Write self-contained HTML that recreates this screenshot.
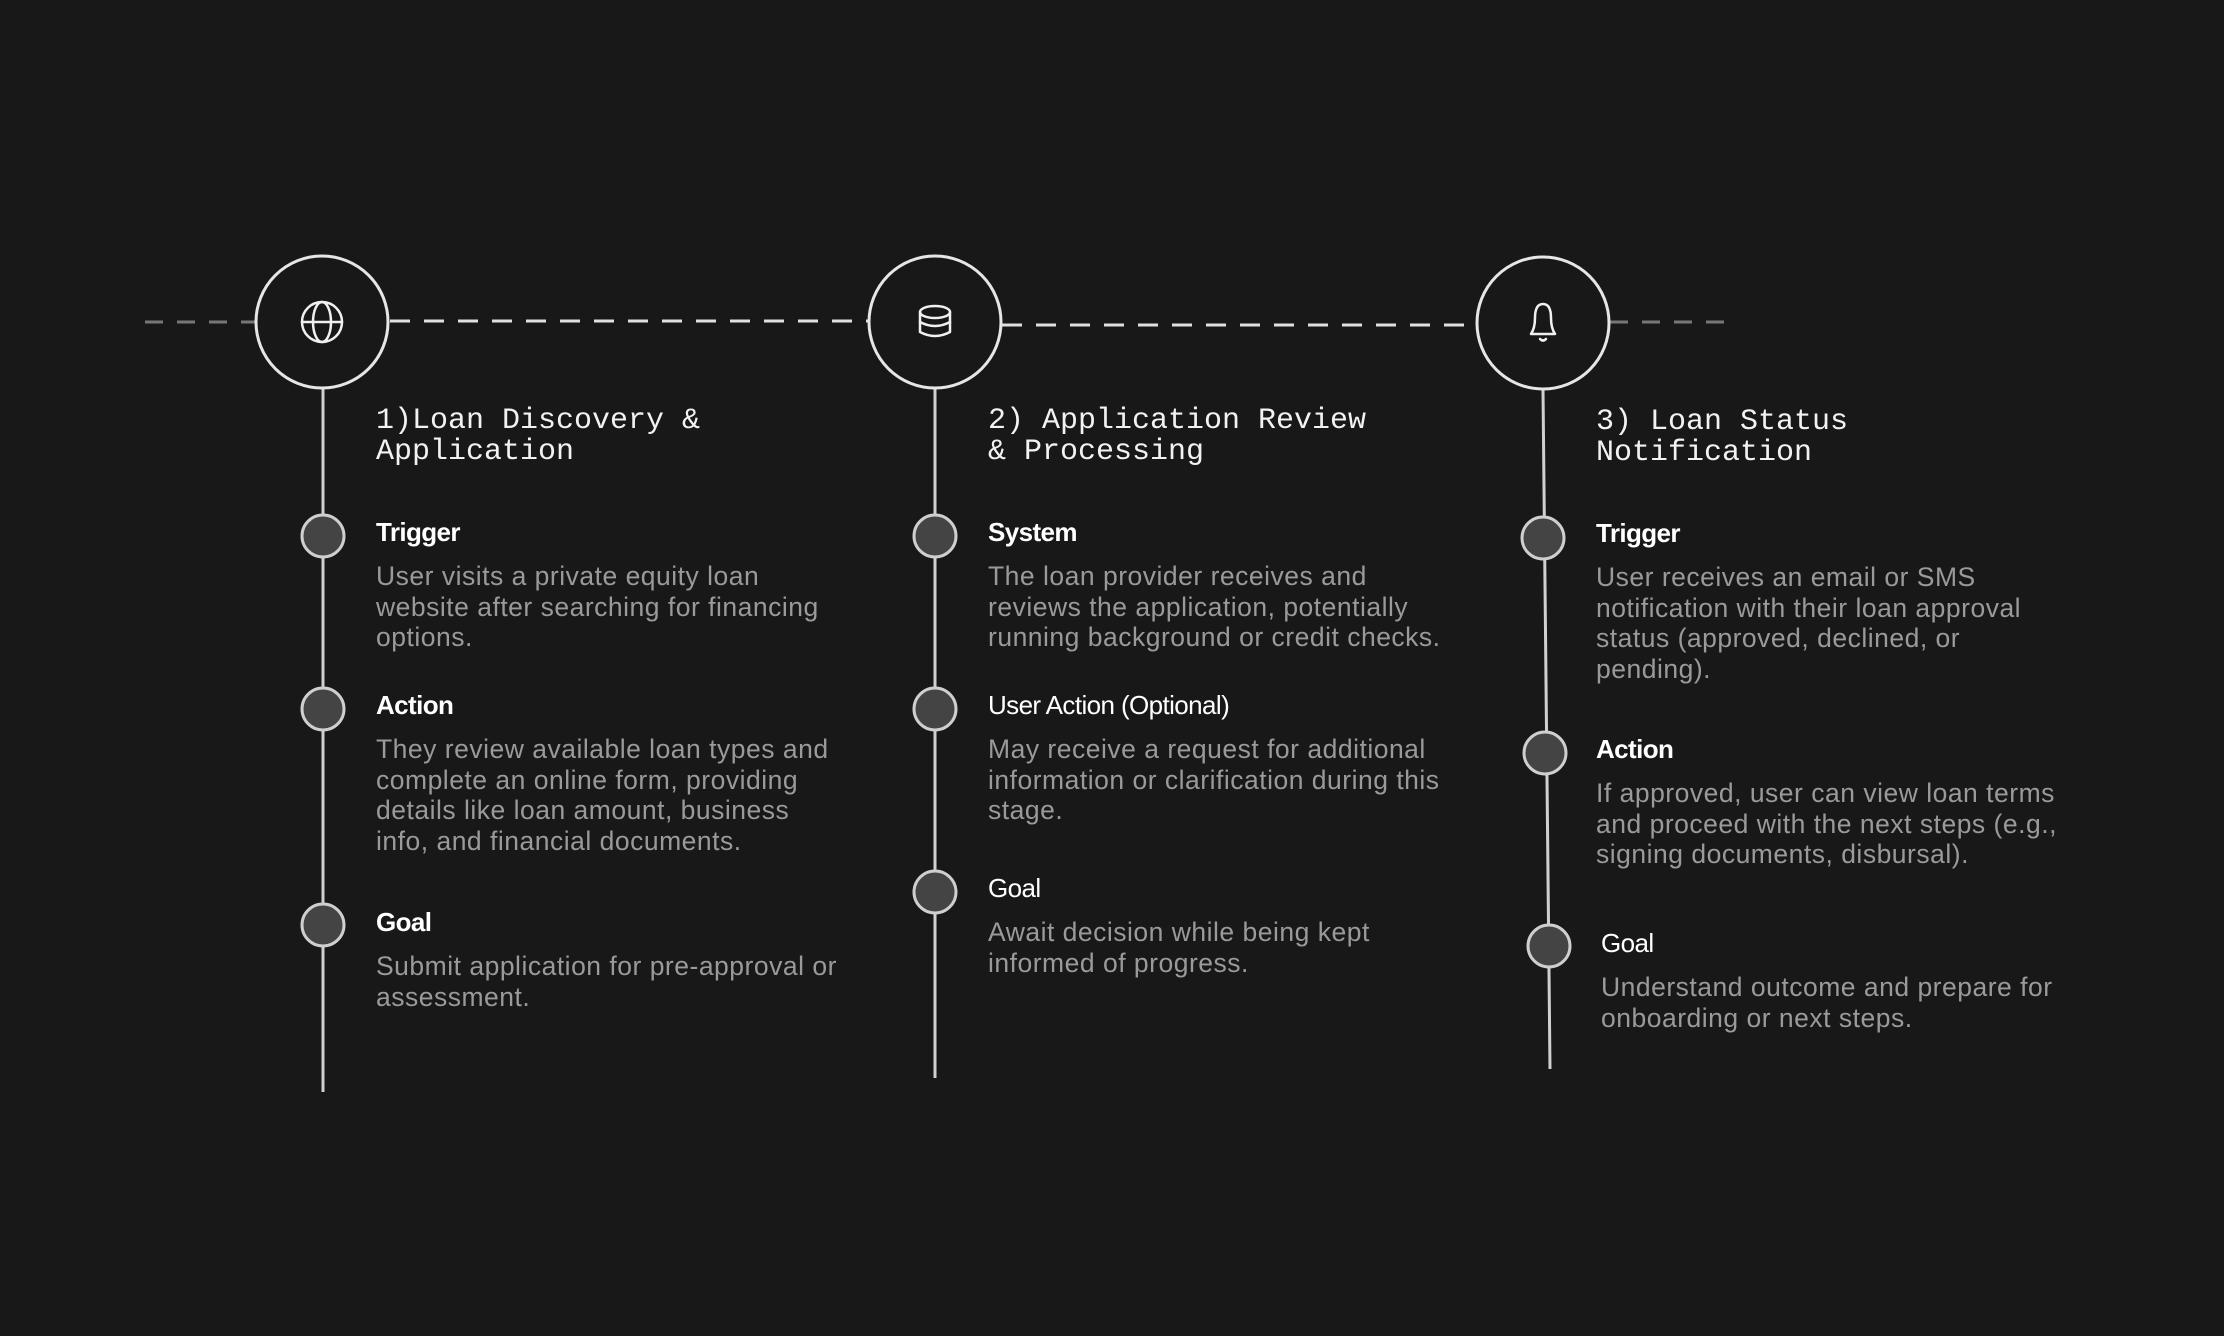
<!DOCTYPE html>
<html><head><meta charset="utf-8"><style>
html,body{margin:0;padding:0;background:#181818;}
#c{position:relative;width:2224px;height:1336px;overflow:hidden;background:#181818;}
svg{position:absolute;left:0;top:0;}
.t{position:absolute;font-family:"Liberation Mono",monospace;font-size:30px;line-height:31px;color:#f2f2f2;white-space:nowrap;letter-spacing:0px;}
.h{position:absolute;font-family:"Liberation Sans",sans-serif;font-size:26px;line-height:30px;color:#fff;white-space:nowrap;letter-spacing:-0.6px;}
.b{font-weight:bold;}
.p{position:absolute;font-family:"Liberation Sans",sans-serif;font-size:26.5px;line-height:30.5px;color:#9a9a9a;white-space:nowrap;letter-spacing:0.5px;}
</style></head><body><div id="c">
<svg width="2224" height="1336" viewBox="0 0 2224 1336">
<g fill="none" stroke-width="3">
<line x1="145" y1="322" x2="255" y2="322" stroke="#777" stroke-dasharray="18 14"/>
<line x1="390" y1="321" x2="868" y2="321" stroke="#e0e0e0" stroke-dasharray="20 14"/>
<line x1="1002" y1="325" x2="1476" y2="325" stroke="#e0e0e0" stroke-dasharray="20 14"/>
<line x1="1610" y1="322" x2="1725" y2="322" stroke="#777" stroke-dasharray="18 14"/>
<line x1="323" y1="389" x2="323" y2="1092" stroke="#d0d0d0"/>
<line x1="935" y1="389" x2="935" y2="1078" stroke="#d0d0d0"/>
<line x1="1543" y1="390" x2="1550" y2="1069" stroke="#d0d0d0"/>
<circle cx="322" cy="322" r="66" stroke="#e6e6e6"/>
<circle cx="935" cy="322" r="66" stroke="#e6e6e6"/>
<circle cx="1543" cy="323" r="66" stroke="#e6e6e6"/>
</g>
<g fill="#444" stroke="#cfcfcf" stroke-width="3">
<circle cx="323" cy="536" r="21"/><circle cx="323" cy="709" r="21"/><circle cx="323" cy="925" r="21"/>
<circle cx="935" cy="536" r="21"/><circle cx="935" cy="709" r="21"/><circle cx="935" cy="892" r="21"/>
<circle cx="1543" cy="538" r="21"/><circle cx="1545" cy="753" r="21"/><circle cx="1549" cy="946" r="21"/>
</g>
<g fill="none" stroke="#f0f0f0" stroke-width="2.5" stroke-linecap="round" stroke-linejoin="round">
<circle cx="322" cy="322" r="20"/><line x1="302" y1="322" x2="342" y2="322"/>
<ellipse cx="322" cy="322" rx="9" ry="20"/>
<ellipse cx="935" cy="312" rx="15" ry="6"/>
<path d="M920 312 V332 Q935 340 950 332 V312"/><path d="M920 322 Q935 330 950 322"/>
<path d="M1531 334 Q1535 328 1535 318 Q1535 304 1543 304 Q1551 304 1551 318 Q1551 328 1555 334 Z"/>
<path d="M1540 339 Q1543 342 1546 339"/>
</g>
</svg>
<div class="t" style="left:376px;top:406px">1)Loan Discovery &amp;<br>Application</div>
<div class="t" style="left:988px;top:406px">2) Application Review<br>&amp; Processing</div>
<div class="t" style="left:1596px;top:407px">3) Loan Status<br>Notification</div>

<div class="h b" style="left:376px;top:517px">Trigger</div>
<div class="p" style="left:376px;top:561px">User visits a private equity loan<br>website after searching for financing<br>options.</div>
<div class="h b" style="left:376px;top:690px">Action</div>
<div class="p" style="left:376px;top:734px">They review available loan types and<br>complete an online form, providing<br>details like loan amount, business<br>info, and financial documents.</div>
<div class="h b" style="left:376px;top:907px">Goal</div>
<div class="p" style="left:376px;top:951px">Submit application for pre-approval or<br>assessment.</div>

<div class="h b" style="left:988px;top:517px">System</div>
<div class="p" style="left:988px;top:561px">The loan provider receives and<br>reviews the application, potentially<br>running background or credit checks.</div>
<div class="h" style="left:988px;top:690px">User Action (Optional)</div>
<div class="p" style="left:988px;top:734px">May receive a request for additional<br>information or clarification during this<br>stage.</div>
<div class="h" style="left:988px;top:873px">Goal</div>
<div class="p" style="left:988px;top:917px">Await decision while being kept<br>informed of progress.</div>

<div class="h b" style="left:1596px;top:518px">Trigger</div>
<div class="p" style="left:1596px;top:562px">User receives an email or SMS<br>notification with their loan approval<br>status (approved, declined, or<br>pending).</div>
<div class="h b" style="left:1596px;top:734px">Action</div>
<div class="p" style="left:1596px;top:778px">If approved, user can view loan terms<br>and proceed with the next steps (e.g.,<br>signing documents, disbursal).</div>
<div class="h" style="left:1601px;top:928px">Goal</div>
<div class="p" style="left:1601px;top:972px">Understand outcome and prepare for<br>onboarding or next steps.</div>
</div></body></html>
